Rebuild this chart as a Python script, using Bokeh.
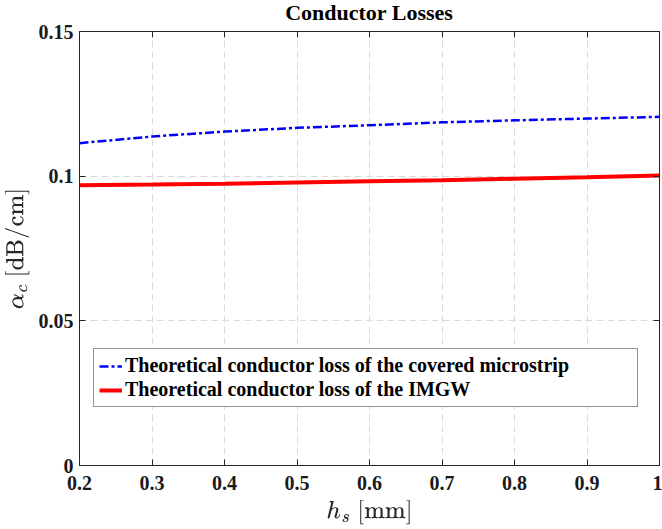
from bokeh.embed import file_html
from bokeh.layouts import column
from bokeh.models import (ColumnDataSource, Div, FixedTicker, Legend,
                          LegendItem, LinearAxis, Range1d)
from bokeh.plotting import figure
from bokeh.resources import INLINE

# Substrate height h_s in mm
hs_mm = [0.2, 0.3, 0.4, 0.5, 0.6, 0.7, 0.8, 0.9, 1.0]
# Conductor attenuation alpha_c in dB/cm
loss_microstrip = [0.1114, 0.1137, 0.1154, 0.1167, 0.1176, 0.1186, 0.1193, 0.1199, 0.1205]
loss_imgw = [0.0969, 0.0971, 0.0974, 0.0978, 0.0982, 0.0986, 0.0991, 0.0996, 0.1002]

x_ticks = [0.2, 0.3, 0.4, 0.5, 0.6, 0.7, 0.8, 0.9, 1.0]
x_tick_labels = ["0.2", "0.3", "0.4", "0.5", "0.6", "0.7", "0.8", "0.9", "1"]
y_ticks = [0.0, 0.05, 0.1, 0.15]
y_tick_labels = ["0", "0.05", "0.1", "0.15"]

series_names = [
    "Theoretical conductor loss of the covered microstrip",
    "Theoretical conductor loss of the IMGW",
]
chart_title = "Conductor Losses"

SERIF = "Liberation Serif"
INK = "#262626"

src = ColumnDataSource(dict(hs=hs_mm, ms=loss_microstrip, imgw=loss_imgw))

# Title strip, centred over the plotting frame (frame spans x = 79..659)
title_div = Div(
    text=(f'<div style="display:block;width:586px;margin-left:76px;text-align:center;'
          f'font-family:\'{SERIF}\';font-weight:bold;font-size:22px;line-height:26px;'
          f'color:#000;white-space:nowrap;">{chart_title}</div>'),
    width=662, height=18, margin=0,
)

p = figure(
    width=662, height=511,
    x_range=Range1d(0.2, 1.0), y_range=Range1d(0.0, 0.15),
    output_backend="svg", toolbar_location=None,
    min_border_left=79, min_border_right=3,
    min_border_top=13, min_border_bottom=64,
    background_fill_color="white", border_fill_color=None,
    margin=0,
)

p.outline_line_color = INK
p.outline_line_width = 1

# Axes: ticks pointing inward, bold serif tick labels
for ax in (p.xaxis[0], p.yaxis[0]):
    ax.major_tick_in = 6
    ax.major_tick_out = 0
    ax.minor_tick_line_color = None
    ax.axis_line_color = INK
    ax.major_tick_line_color = INK
    ax.major_label_text_font = SERIF
    ax.major_label_text_font_style = "bold"
    ax.major_label_text_font_size = "20px"
    ax.major_label_text_color = "#1a1a1a"
    ax.axis_label_text_font_size = "20px"
    ax.axis_label_text_color = "#262626"

p.xaxis[0].ticker = FixedTicker(ticks=x_ticks)
p.xaxis[0].major_label_overrides = dict(zip(x_ticks, x_tick_labels))
p.xaxis[0].major_label_standoff = 10
p.xaxis[0].axis_label = r"$$h_s\ [\mathrm{mm}]$$"
p.xaxis[0].axis_label_standoff = 7

p.yaxis[0].ticker = FixedTicker(ticks=y_ticks)
p.yaxis[0].major_label_overrides = dict(zip(y_ticks, y_tick_labels))
p.yaxis[0].major_label_standoff = 6
p.yaxis[0].axis_label = r"$$\alpha_c\ [\mathrm{dB/cm}]$$"
p.yaxis[0].axis_label_standoff = 6

# Mirror ticks on the top and right edges of the box
top_axis = LinearAxis(ticker=FixedTicker(ticks=x_ticks), major_label_text_font_size="0px",
                      major_label_standoff=0, major_tick_in=6, major_tick_out=0,
                      minor_tick_line_color=None, axis_line_color=INK,
                      major_tick_line_color=INK)
right_axis = LinearAxis(ticker=FixedTicker(ticks=y_ticks), major_label_text_font_size="0px",
                        major_label_standoff=0, major_tick_in=6, major_tick_out=0,
                        minor_tick_line_color=None, axis_line_color=INK,
                        major_tick_line_color=INK)
p.add_layout(top_axis, "above")
p.add_layout(right_axis, "right")

p.grid.grid_line_color = "#dadada"
p.grid.grid_line_dash = "7 4"
p.grid.grid_line_width = 1

r_ms = p.line("hs", "ms", source=src, line_color="#0000ff", line_width=2.5,
              line_dash="9 3 3 3")
r_imgw = p.line("hs", "imgw", source=src, line_color="#ff0000", line_width=4)

legend = Legend(
    items=[LegendItem(label=series_names[0], renderers=[r_ms]),
           LegendItem(label=series_names[1], renderers=[r_imgw])],
    location=(14, 58),
    label_text_font=SERIF, label_text_font_style="bold",
    label_text_font_size="20px", label_text_color="black",
    glyph_width=23, glyph_height=20, label_height=20, label_standoff=3,
    label_width=507, spacing=1, padding=5,
    border_line_color=INK, border_line_width=1,
    background_fill_color="white", background_fill_alpha=1.0,
)
p.add_layout(legend)

layout = column(title_div, p, spacing=0, margin=0)
open("out.html", "w").write(file_html(layout, INLINE))
